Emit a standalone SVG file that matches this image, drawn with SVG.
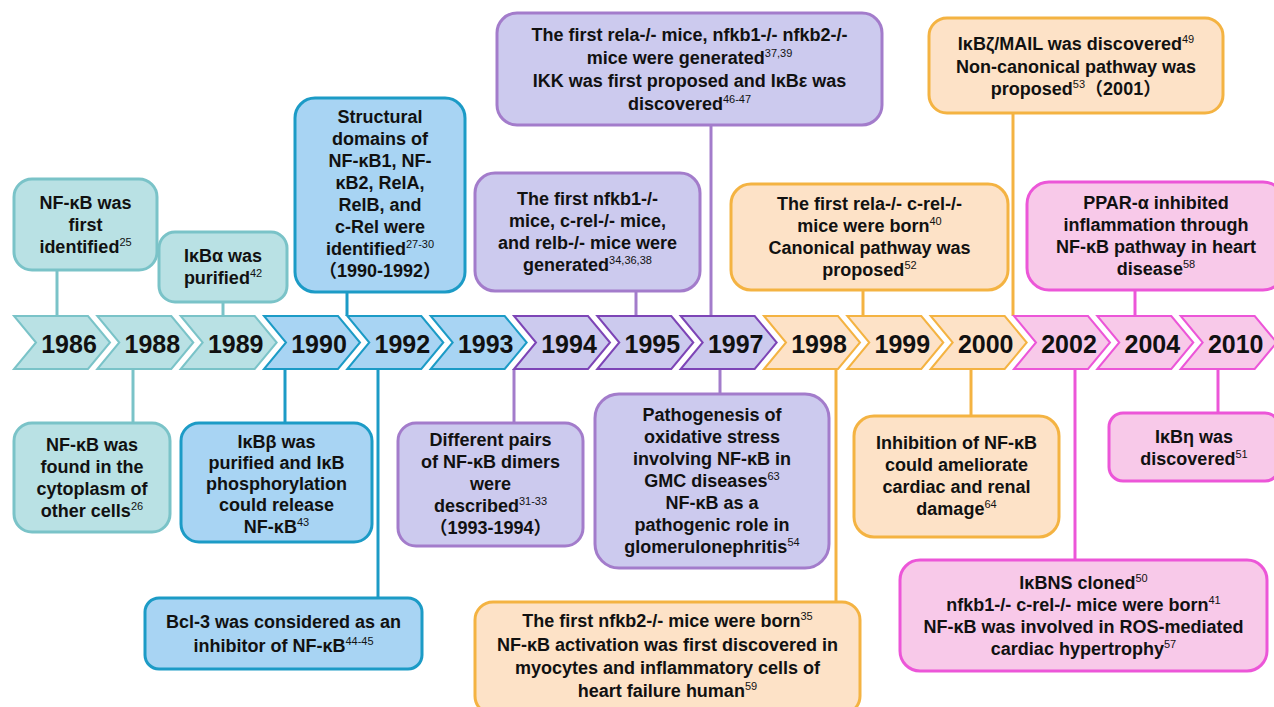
<svg xmlns="http://www.w3.org/2000/svg" xmlns:xlink="http://www.w3.org/1999/xlink" width="1274" height="707" viewBox="0 0 1274 707">
<style>
text{font-family:"Liberation Sans","Noto Sans CJK SC",Arial,sans-serif;font-weight:bold;fill:#111;text-anchor:middle}
.t{font-size:18px}
.yr{font-size:25px}
.sup{font-size:11px;font-weight:normal}
.box{stroke-width:3}
.chev{stroke-width:2}
.ln{stroke-width:3;fill:none}
.teal{fill:#b9e1e4;stroke:#7ac3c8}
.blue{fill:#a8d4f3;stroke:#1c9bc6}
.purp{fill:#cccaee;stroke:#a37ccb}
.purc{fill:#cccaee;stroke:#7d45b6}
.oran{fill:#fde2c7;stroke:#f4b342}
.pink{fill:#f8c9e9;stroke:#ec56d8}
.lteal{stroke:#7ac3c8}
.lblue{stroke:#1c9bc6}
.lpurp{stroke:#a37ccb}
.loran{stroke:#f4b342}
.lpink{stroke:#ec56d8}
</style>
<defs>
<polygon id="chv" points="0,0 74,0 96,26.5 74,53 0,53 22,26.5"/>
</defs>

<g id="connectors">
<line class="ln lteal" x1="57" y1="270" x2="57" y2="316"/>
<line class="ln lteal" x1="133" y1="369" x2="133" y2="423"/>
<line class="ln lteal" x1="223" y1="302" x2="223" y2="316"/>
<line class="ln lblue" x1="285" y1="369" x2="285" y2="423"/>
<line class="ln lblue" x1="347" y1="292" x2="347" y2="316"/>
<line class="ln lblue" x1="378" y1="369" x2="378" y2="598"/>
<line class="ln lpurp" x1="514" y1="369" x2="514" y2="423"/>
<line class="ln lpurp" x1="636" y1="291" x2="636" y2="316"/>
<line class="ln lpurp" x1="711" y1="125" x2="711" y2="316"/>
<line class="ln lpurp" x1="720" y1="369" x2="720" y2="394"/>
<line class="ln loran" x1="836" y1="369" x2="836" y2="602"/>
<line class="ln loran" x1="863" y1="290" x2="863" y2="316"/>
<line class="ln loran" x1="971" y1="369" x2="971" y2="416"/>
<line class="ln loran" x1="1013" y1="113" x2="1013" y2="316"/>
<line class="ln lpink" x1="1075" y1="369" x2="1075" y2="560"/>
<line class="ln lpink" x1="1135" y1="290" x2="1135" y2="316"/>
<line class="ln lpink" x1="1218" y1="369" x2="1218" y2="413"/>
</g>

<g id="timeline">
<g id="y1986"><use xlink:href="#chv" class="chev teal" x="14" y="316"/><text class="yr" x="69" y="353">1986</text></g>
<g id="y1988"><use xlink:href="#chv" class="chev teal" x="97.3" y="316"/><text class="yr" x="152.3" y="353">1988</text></g>
<g id="y1989"><use xlink:href="#chv" class="chev teal" x="180.7" y="316"/><text class="yr" x="235.7" y="353">1989</text></g>
<g id="y1990"><use xlink:href="#chv" class="chev blue" x="264" y="316"/><text class="yr" x="319" y="353">1990</text></g>
<g id="y1992"><use xlink:href="#chv" class="chev blue" x="347.3" y="316"/><text class="yr" x="402.3" y="353">1992</text></g>
<g id="y1993"><use xlink:href="#chv" class="chev blue" x="430.7" y="316"/><text class="yr" x="485.7" y="353">1993</text></g>
<g id="y1994"><use xlink:href="#chv" class="chev purc" x="514" y="316"/><text class="yr" x="569" y="353">1994</text></g>
<g id="y1995"><use xlink:href="#chv" class="chev purc" x="597.3" y="316"/><text class="yr" x="652.3" y="353">1995</text></g>
<g id="y1997"><use xlink:href="#chv" class="chev purc" x="680.7" y="316"/><text class="yr" x="735.7" y="353">1997</text></g>
<g id="y1998"><use xlink:href="#chv" class="chev oran" x="764" y="316"/><text class="yr" x="819" y="353">1998</text></g>
<g id="y1999"><use xlink:href="#chv" class="chev oran" x="847.3" y="316"/><text class="yr" x="902.3" y="353">1999</text></g>
<g id="y2000"><use xlink:href="#chv" class="chev oran" x="930.7" y="316"/><text class="yr" x="985.7" y="353">2000</text></g>
<g id="y2002"><use xlink:href="#chv" class="chev pink" x="1014" y="316"/><text class="yr" x="1069" y="353">2002</text></g>
<g id="y2004"><use xlink:href="#chv" class="chev pink" x="1097.3" y="316"/><text class="yr" x="1152.3" y="353">2004</text></g>
<g id="y2010"><use xlink:href="#chv" class="chev pink" x="1180.7" y="316"/><text class="yr" x="1235.7" y="353">2010</text></g>
</g>

<g id="n1986">
<rect class="box teal" x="14" y="179" width="143" height="91" rx="18"/>
<text class="t" x="85.5" y="209">NF-κB was</text>
<text class="t" x="85.5" y="231">first</text>
<text class="t" x="85.5" y="253">identified<tspan class="sup" dy="-7">25</tspan></text>
</g>
<g id="n1989">
<rect class="box teal" x="159" y="232" width="128" height="70" rx="16"/>
<text class="t" x="223" y="262">IκBα was</text>
<text class="t" x="223" y="284">purified<tspan class="sup" dy="-7">42</tspan></text>
</g>
<g id="n1988">
<rect class="box teal" x="14" y="423" width="156" height="109" rx="18"/>
<text class="t" x="92" y="451">NF-κB was</text>
<text class="t" x="92" y="473">found in the</text>
<text class="t" x="92" y="495">cytoplasm of</text>
<text class="t" x="92" y="517">other cells<tspan class="sup" dy="-7">26</tspan></text>
</g>
<g id="n1990">
<rect class="box blue" x="181" y="423" width="191" height="119" rx="18"/>
<text class="t" x="276.5" y="448">IκBβ was</text>
<text class="t" x="276.5" y="469">purified and IκB</text>
<text class="t" x="276.5" y="490">phosphorylation</text>
<text class="t" x="276.5" y="511">could release</text>
<text class="t" x="276.5" y="533">NF-κB<tspan class="sup" dy="-7">43</tspan></text>
</g>
<g id="n1992a">
<rect class="box blue" x="295" y="98" width="170" height="194" rx="20"/>
<text class="t" x="380" y="123">Structural</text>
<text class="t" x="380" y="145">domains of</text>
<text class="t" x="380" y="167">NF-κB1, NF-</text>
<text class="t" x="380" y="189">κB2, RelA,</text>
<text class="t" x="380" y="211">RelB, and</text>
<text class="t" x="380" y="233">c-Rel were</text>
<text class="t" x="380" y="255">identified<tspan class="sup" dy="-7">27-30</tspan></text>
<text class="t" x="380" y="277">（1990-1992）</text>
</g>
<g id="n1992b">
<rect class="box blue" x="145" y="598" width="277" height="71" rx="14"/>
<text class="t" x="283.5" y="628">Bcl-3 was considered as an</text>
<text class="t" x="283.5" y="652">inhibitor of NF-κB<tspan class="sup" dy="-7">44-45</tspan></text>
</g>
<g id="n1994">
<rect class="box purp" x="398" y="423" width="185" height="123" rx="18"/>
<text class="t" x="490.5" y="446">Different pairs</text>
<text class="t" x="490.5" y="468">of NF-κB dimers</text>
<text class="t" x="490.5" y="490">were</text>
<text class="t" x="490.5" y="512">described<tspan class="sup" dy="-7">31-33</tspan></text>
<text class="t" x="490.5" y="534">（1993-1994）</text>
</g>
<g id="n1995">
<rect class="box purp" x="475" y="173" width="225" height="118" rx="20"/>
<text class="t" x="587.5" y="205">The first nfkb1-/-</text>
<text class="t" x="587.5" y="227">mice, c-rel-/- mice,</text>
<text class="t" x="587.5" y="249">and relb-/- mice were</text>
<text class="t" x="587.5" y="271">generated<tspan class="sup" dy="-7">34,36,38</tspan></text>
</g>
<g id="n1997a">
<rect class="box purp" x="497" y="13" width="385" height="112" rx="20"/>
<text class="t" x="689.5" y="41">The first rela-/- mice, nfkb1-/- nfkb2-/-</text>
<text class="t" x="689.5" y="64">mice were generated<tspan class="sup" dy="-7">37,39</tspan></text>
<text class="t" x="689.5" y="87">IKK was first proposed and IκBε was</text>
<text class="t" x="689.5" y="110">discovered<tspan class="sup" dy="-7">46-47</tspan></text>
</g>
<g id="n1997b">
<rect class="box purp" x="595" y="394" width="234" height="174" rx="24"/>
<text class="t" x="712" y="421">Pathogenesis of</text>
<text class="t" x="712" y="443">oxidative stress</text>
<text class="t" x="712" y="465">involving NF-κB in</text>
<text class="t" x="712" y="487">GMC diseases<tspan class="sup" dy="-7">63</tspan></text>
<text class="t" x="712" y="509">NF-κB as a</text>
<text class="t" x="712" y="531">pathogenic role in</text>
<text class="t" x="712" y="553">glomerulonephritis<tspan class="sup" dy="-7">54</tspan></text>
</g>
<g id="n1998">
<rect class="box oran" x="475" y="602" width="385" height="112" rx="18"/>
<text class="t" x="667.5" y="627">The first nfkb2-/- mice were born<tspan class="sup" dy="-7">35</tspan></text>
<text class="t" x="667.5" y="651">NF-κB activation was first discovered in</text>
<text class="t" x="667.5" y="674">myocytes and inflammatory cells of</text>
<text class="t" x="667.5" y="697">heart failure human<tspan class="sup" dy="-7">59</tspan></text>
</g>
<g id="n1999">
<rect class="box oran" x="731" y="184" width="277" height="106" rx="20"/>
<text class="t" x="869.5" y="210">The first rela-/- c-rel-/-</text>
<text class="t" x="869.5" y="232">mice were born<tspan class="sup" dy="-7">40</tspan></text>
<text class="t" x="869.5" y="254">Canonical pathway was</text>
<text class="t" x="869.5" y="276">proposed<tspan class="sup" dy="-7">52</tspan></text>
</g>
<g id="n2000a">
<rect class="box oran" x="854" y="416" width="205" height="121" rx="20"/>
<text class="t" x="956.5" y="449">Inhibition of NF-κB</text>
<text class="t" x="956.5" y="471">could ameliorate</text>
<text class="t" x="956.5" y="493">cardiac and renal</text>
<text class="t" x="956.5" y="515">damage<tspan class="sup" dy="-7">64</tspan></text>
</g>
<g id="n2001">
<rect class="box oran" x="929" y="18" width="294" height="95" rx="18"/>
<text class="t" x="1076" y="50">IκBζ/MAIL was discovered<tspan class="sup" dy="-7">49</tspan></text>
<text class="t" x="1076" y="72.5">Non-canonical pathway was</text>
<text class="t" x="1076" y="95">proposed<tspan class="sup" dy="-7">53</tspan><tspan dy="7">（2001）</tspan></text>
</g>
<g id="n2002">
<rect class="box pink" x="900" y="560" width="367" height="111" rx="20"/>
<text class="t" x="1083.5" y="589">IκBNS cloned<tspan class="sup" dy="-7">50</tspan></text>
<text class="t" x="1083.5" y="611">nfkb1-/- c-rel-/- mice were born<tspan class="sup" dy="-7">41</tspan></text>
<text class="t" x="1083.5" y="633">NF-κB was involved in ROS-mediated</text>
<text class="t" x="1083.5" y="655">cardiac hypertrophy<tspan class="sup" dy="-7">57</tspan></text>
</g>
<g id="n2004">
<rect class="box pink" x="1027" y="182" width="258" height="108" rx="22"/>
<text class="t" x="1156" y="209">PPAR-α inhibited</text>
<text class="t" x="1156" y="231">inflammation through</text>
<text class="t" x="1156" y="253">NF-κB pathway in heart</text>
<text class="t" x="1156" y="275">disease<tspan class="sup" dy="-7">58</tspan></text>
</g>
<g id="n2010">
<rect class="box pink" x="1109" y="413" width="170" height="68" rx="14"/>
<text class="t" x="1194" y="443">IκBη was</text>
<text class="t" x="1194" y="465">discovered<tspan class="sup" dy="-7">51</tspan></text>
</g>
</svg>
